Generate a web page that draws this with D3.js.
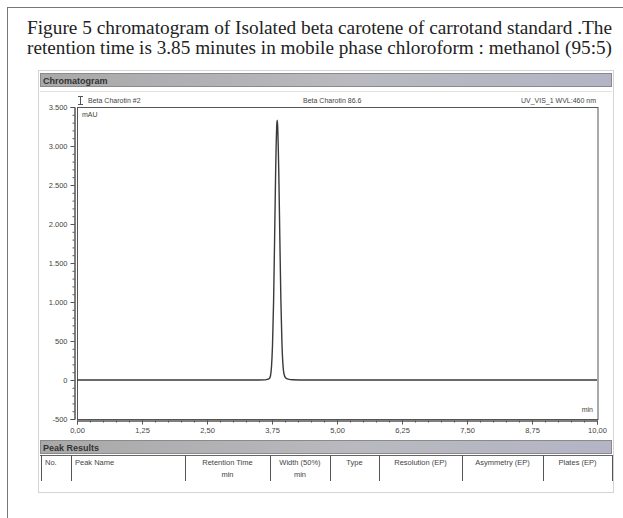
<!DOCTYPE html>
<html>
<head>
<meta charset="utf-8">
<script src="https://cdn.jsdelivr.net/npm/d3@7/dist/d3.min.js"></script>
<style>
  html, body { margin: 0; padding: 0; background: #fff; }
  svg { display: block; }
</style>
</head>
<body>
<script>
// Chromatogram trace: retention time (min) and absorbance (mAU)
const timeMin = [0, 1.0, 2.0, 3.0, 3.5, 3.62, 3.66, 3.70, 3.72, 3.74, 3.76, 3.78, 3.80, 3.82, 3.83, 3.84, 3.85,
                 3.86, 3.87, 3.88, 3.90, 3.92, 3.94, 3.96, 3.98, 4.01, 4.06, 4.15, 4.40, 5.0, 6.0, 7.0, 8.0, 9.0, 10.0];
const absMAU  = [0, 0, 0, 0, 0, 2, 8, 20, 51, 168, 451, 992, 1800, 2670, 3010, 3250, 3330,
                 3240, 3000, 2680, 1850, 1050, 500, 200, 80, 30, 12, 4, 0, 0, 0, 0, 0, 0, 0];

const xTicks = [0, 1.25, 2.5, 3.75, 5, 6.25, 7.5, 8.75, 10];
const xTickLabels = ["0,00", "1,25", "2,50", "3,75", "5,00", "6,25", "7,50", "8,75", "10,00"];
const yTicks = [-500, 0, 500, 1000, 1500, 2000, 2500, 3000, 3500];
const yTickLabels = ["-500", "0", "500", "1.000", "1.500", "2.000", "2.500", "3.000", "3.500"];

const titleLines = [
  "Figure  5 chromatogram of Isolated beta carotene of carrotand standard .The",
  "retention time is 3.85 minutes in mobile phase chloroform : methanol (95:5)"
];
const sampleInfo = ["Beta Charotin #2", "Beta Charotin 86.6", "UV_VIS_1 WVL:460 nm"];
const peakColumns = [
  ["No."], ["Peak Name"], ["Retention Time", "min"], ["Width (50%)", "min"],
  ["Type"], ["Resolution (EP)"], ["Asymmetry (EP)"], ["Plates (EP)"]
];

const W = 623, H = 518;
const svg = d3.select("body").append("svg").attr("width", W).attr("height", H);
const sans = "'Liberation Sans', Arial, sans-serif";
const ink = "#444";

// gradients for panel title bars
const defs = svg.append("defs");
const grad = defs.append("linearGradient").attr("id", "barGrad").attr("x1", 0).attr("x2", 1).attr("y1", 0).attr("y2", 0);
grad.append("stop").attr("offset", "0%").attr("stop-color", "#a9a9a9");
grad.append("stop").attr("offset", "55%").attr("stop-color", "#b9b9bf");
grad.append("stop").attr("offset", "100%").attr("stop-color", "#b4b4c6");

// page frame
svg.append("line").attr("x1", 7).attr("x2", W).attr("y1", 7.5).attr("y2", 7.5).attr("stroke", "#777").attr("stroke-width", 1);
svg.append("line").attr("x1", 7.5).attr("x2", 7.5).attr("y1", 7).attr("y2", H).attr("stroke", "#777").attr("stroke-width", 1);

// caption
svg.selectAll("text.title").data(titleLines).join("text")
  .attr("class", "title")
  .attr("x", 27).attr("y", (d, i) => 34 + i * 20)
  .attr("textLength", 585).attr("lengthAdjust", "spacingAndGlyphs")
  .style("font-family", "'Liberation Serif', 'Times New Roman', serif")
  .style("font-size", "18px").attr("fill", "#222")
  .text(d => d);

// report panel outline
svg.append("rect").attr("x", 38.5).attr("y", 70.5).attr("width", 575).attr("height", 422)
  .attr("fill", "none").attr("stroke", "#d4d4d4");

// "Chromatogram" bar
svg.append("rect").attr("x", 40.5).attr("y", 73.5).attr("width", 571).attr("height", 13)
  .attr("fill", "url(#barGrad)").attr("stroke", "#8a8a8a");
svg.append("text").attr("x", 43).attr("y", 83.5)
  .style("font-family", sans).style("font-size", "9px").style("font-weight", "bold")
  .attr("fill", "#333").text("Chromatogram");
svg.append("line").attr("x1", 40).attr("x2", 612).attr("y1", 91.5).attr("y2", 91.5).attr("stroke", "#e2e2e2");

// plot area
const m = { left: 77, right: 597, top: 107, bottom: 419 };
const x = d3.scaleLinear().domain([0, 10]).range([m.left, m.right]);
const y = d3.scaleLinear().domain([-500, 3500]).range([m.bottom, m.top]);

svg.append("rect").attr("x", m.left + 0.5).attr("y", m.top + 0.5)
  .attr("width", m.right - m.left + 0.5).attr("height", m.bottom - m.top)
  .attr("fill", "#fff").attr("stroke", "#555").attr("stroke-width", 1);

// sample info row
const info = svg.append("g").style("font-family", sans).style("font-size", "7px").attr("fill", ink);
info.append("text").attr("x", 88).attr("y", 103).text(sampleInfo[0]);
info.append("text").attr("x", 303).attr("y", 103).text(sampleInfo[1]);
info.append("text").attr("x", 596).attr("y", 103).attr("text-anchor", "end").text(sampleInfo[2]);
// scale marker glyph
const glyph = svg.append("g").attr("stroke", "#555").attr("stroke-width", 1);
glyph.append("line").attr("x1", 80.5).attr("x2", 80.5).attr("y1", 96).attr("y2", 105);
glyph.append("line").attr("x1", 78).attr("x2", 83).attr("y1", 96.5).attr("y2", 96.5);
glyph.append("line").attr("x1", 78).attr("x2", 83).attr("y1", 104.5).attr("y2", 104.5);

// y axis
const yAxisG = svg.append("g").attr("transform", `translate(${m.left - 2.5},0)`);
yAxisG.call(d3.axisLeft(y).tickValues(d3.range(-500, 3501, 100)).tickSize(2).tickFormat(""));
yAxisG.call(g => g.append("g").call(d3.axisLeft(y).tickValues(yTicks).tickSize(4)
  .tickFormat((d, i) => yTickLabels[i])));
yAxisG.selectAll("path,line").attr("stroke", "#555");
yAxisG.selectAll("text").style("font-family", sans).style("font-size", "7.5px").attr("fill", ink);

// x axis
const xAxisG = svg.append("g").attr("transform", `translate(0,${m.bottom + 1.5})`);
xAxisG.call(d3.axisBottom(x).tickValues(d3.range(0, 10.01, 0.25)).tickSize(2).tickFormat(""));
xAxisG.call(g => g.append("g").call(d3.axisBottom(x).tickValues(xTicks).tickSize(4)
  .tickFormat((d, i) => xTickLabels[i])));
xAxisG.selectAll("path,line").attr("stroke", "#555");
xAxisG.selectAll("text").style("font-family", sans).style("font-size", "7.5px").attr("fill", ink);

// unit labels
svg.append("text").attr("x", 82).attr("y", 117).style("font-family", sans).style("font-size", "7px").attr("fill", ink).text("mAU");
svg.append("text").attr("x", 593).attr("y", 412).attr("text-anchor", "end").style("font-family", sans).style("font-size", "7px").attr("fill", ink).text("min");

// trace
const trace = d3.line().x((d, i) => x(timeMin[i])).y(d => y(d)).curve(d3.curveMonotoneX);
svg.append("path").datum(absMAU)
  .attr("d", trace).attr("fill", "none").attr("stroke", "#3a3a3a").attr("stroke-width", 1.4);

// peak results table
svg.append("rect").attr("x", 40.5).attr("y", 440.5).attr("width", 571).attr("height", 13)
  .attr("fill", "url(#barGrad)").attr("stroke", "#8a8a8a");
svg.append("text").attr("x", 43).attr("y", 450.5)
  .style("font-family", sans).style("font-size", "9px").style("font-weight", "bold")
  .attr("fill", "#333").text("Peak Results");

const colEdges = [41, 71, 185, 270, 330, 379, 462, 543, 612];
svg.append("line").attr("x1", 40).attr("x2", 612).attr("y1", 455.5).attr("y2", 455.5).attr("stroke", "#666");
svg.selectAll("line.col").data(colEdges).join("line").attr("class", "col")
  .attr("x1", d => d + 0.5).attr("x2", d => d + 0.5).attr("y1", 455).attr("y2", 481)
  .attr("stroke", "#555").attr("stroke-width", 1);

const headG = svg.append("g").style("font-family", sans).style("font-size", "7.5px").attr("fill", ink);
peakColumns.forEach((lines, i) => {
  const left = i < 2;
  const cx = left ? colEdges[i] + 4 : (colEdges[i] + colEdges[i + 1]) / 2;
  lines.forEach((t, j) => {
    headG.append("text").attr("x", cx).attr("y", 465 + j * 12)
      .attr("text-anchor", left ? "start" : "middle").text(t);
  });
});
</script>
</body>
</html>
